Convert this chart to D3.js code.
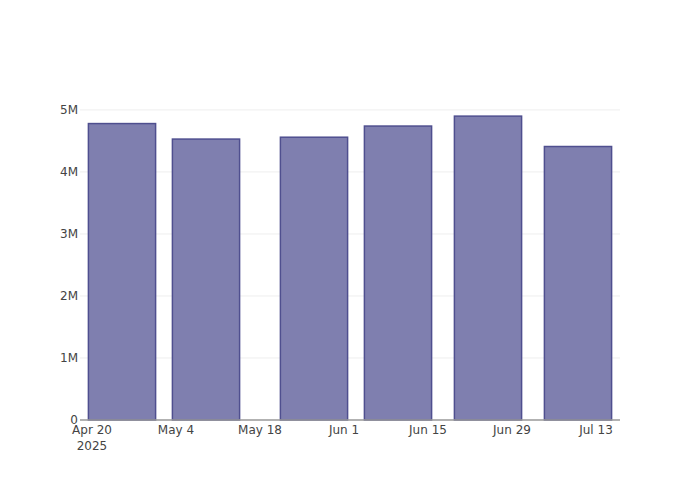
<!DOCTYPE html>
<html><head><meta charset="utf-8">
<script src="https://cdn.jsdelivr.net/npm/d3@7"></script>
<style>body{margin:0;background:#fff}svg{display:block}</style>
</head><body>
<script>
const dates = ["2025-04-25","2025-05-09","2025-05-27","2025-06-10","2025-06-25","2025-07-10"];
const values = [4780000, 4530000, 4560000, 4740000, 4900000, 4410000];
const xTicks = ["2025-04-20","2025-05-04","2025-05-18","2025-06-01","2025-06-15","2025-06-29","2025-07-13"];
const yTicks = [0, 1000000, 2000000, 3000000, 4000000, 5000000];
const xDomain = ["2025-04-18","2025-07-17"];
const yMax = 5160000;

const W = 700, H = 500, m = {t:100, r:80, b:80, l:80};
const parse = d3.utcParse("%Y-%m-%d");
const svg = d3.select("body").append("svg").attr("width", W).attr("height", H);
const x = d3.scaleUtc().domain(xDomain.map(parse)).range([m.l, W - m.r]);
const y = d3.scaleLinear().domain([0, yMax]).range([H - m.b, m.t]);
const font = "'DejaVu Sans', 'Open Sans', sans-serif";

// gridlines
svg.append("g").selectAll("line").data(yTicks.slice(1)).join("line")
  .attr("x1", m.l).attr("x2", W - m.r)
  .attr("y1", d => y(d)).attr("y2", d => y(d))
  .attr("stroke", "#eee").attr("stroke-width", 1);

// bars
const dayMs = 86400000;
const barW = x(new Date(parse(dates[0]).getTime() + 14 * dayMs * 0.8)) - x(parse(dates[0]));
svg.append("g").selectAll("rect").data(dates).join("rect")
  .attr("x", (d) => x(parse(d)) - barW / 2)
  .attr("width", barW)
  .attr("y", (d, i) => y(values[i]))
  .attr("height", (d, i) => y(0) - y(values[i]))
  .attr("fill", "#7f7faf")
  .attr("stroke", "#4f4f8f")
  .attr("stroke-width", 1.5);

// x axis line
svg.append("line").attr("x1", m.l).attr("x2", W - m.r)
  .attr("y1", y(0)).attr("y2", y(0)).attr("stroke", "#999").attr("stroke-width", 1.5);

// y tick labels
const yFmt = d => d === 0 ? "0" : (d / 1e6) + "M";
svg.append("g").selectAll("text").data(yTicks).join("text")
  .attr("x", m.l - 2).attr("y", d => y(d)).attr("dy", "0.35em")
  .attr("text-anchor", "end").attr("fill", "#444")
  .attr("font-family", font).attr("font-size", 12).text(yFmt);

// x tick labels
const xFmt = d3.utcFormat("%b %-d");
const xt = svg.append("g").selectAll("text").data(xTicks).join("text")
  .attr("x", d => x(parse(d))).attr("y", y(0) + 14)
  .attr("text-anchor", "middle").attr("fill", "#444")
  .attr("font-family", font).attr("font-size", 12);
xt.append("tspan").attr("x", d => x(parse(d))).text(d => xFmt(parse(d)));
xt.filter((d, i) => i === 0).append("tspan")
  .attr("x", d => x(parse(d))).attr("dy", 16).text(d => d3.utcFormat("%Y")(parse(d)));
</script>
</body></html>
